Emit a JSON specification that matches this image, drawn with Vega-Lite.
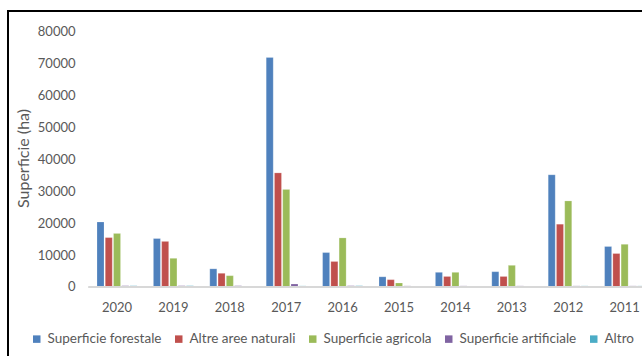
{
  "$schema": "https://vega.github.io/schema/vega-lite/v6.json",
  "autosize": {"type": "none"},
  "padding": {"left": 8, "top": 11, "right": 0, "bottom": 0},
  "width": 660,
  "height": 360,
  "background": "white",
  "config": {
    "view": {"stroke": "#000000", "strokeWidth": 2},
    "font": "Lato",
    "axis": {"labelFont": "Lato", "titleFont": "Lato", "labelColor": "#595959", "titleColor": "#595959"}
  },
  "data": {
    "values": [
      {"anno": "2020", "categoria": "Superficie forestale", "valore": 20400},
      {"anno": "2020", "categoria": "Altre aree naturali", "valore": 15500},
      {"anno": "2020", "categoria": "Superficie agricola", "valore": 16800},
      {"anno": "2020", "categoria": "Superficie artificiale", "valore": 400},
      {"anno": "2020", "categoria": "Altro", "valore": 400},
      {"anno": "2019", "categoria": "Superficie forestale", "valore": 15200},
      {"anno": "2019", "categoria": "Altre aree naturali", "valore": 14300},
      {"anno": "2019", "categoria": "Superficie agricola", "valore": 9000},
      {"anno": "2019", "categoria": "Superficie artificiale", "valore": 400},
      {"anno": "2019", "categoria": "Altro", "valore": 400},
      {"anno": "2018", "categoria": "Superficie forestale", "valore": 5700},
      {"anno": "2018", "categoria": "Altre aree naturali", "valore": 4300},
      {"anno": "2018", "categoria": "Superficie agricola", "valore": 3550},
      {"anno": "2018", "categoria": "Superficie artificiale", "valore": 400},
      {"anno": "2018", "categoria": "Altro", "valore": 0},
      {"anno": "2017", "categoria": "Superficie forestale", "valore": 72000},
      {"anno": "2017", "categoria": "Altre aree naturali", "valore": 35800},
      {"anno": "2017", "categoria": "Superficie agricola", "valore": 30600},
      {"anno": "2017", "categoria": "Superficie artificiale", "valore": 950},
      {"anno": "2017", "categoria": "Altro", "valore": 350},
      {"anno": "2016", "categoria": "Superficie forestale", "valore": 10800},
      {"anno": "2016", "categoria": "Altre aree naturali", "valore": 8000},
      {"anno": "2016", "categoria": "Superficie agricola", "valore": 15400},
      {"anno": "2016", "categoria": "Superficie artificiale", "valore": 400},
      {"anno": "2016", "categoria": "Altro", "valore": 400},
      {"anno": "2015", "categoria": "Superficie forestale", "valore": 3200},
      {"anno": "2015", "categoria": "Altre aree naturali", "valore": 2300},
      {"anno": "2015", "categoria": "Superficie agricola", "valore": 1250},
      {"anno": "2015", "categoria": "Superficie artificiale", "valore": 350},
      {"anno": "2015", "categoria": "Altro", "valore": 0},
      {"anno": "2014", "categoria": "Superficie forestale", "valore": 4600},
      {"anno": "2014", "categoria": "Altre aree naturali", "valore": 3300},
      {"anno": "2014", "categoria": "Superficie agricola", "valore": 4600},
      {"anno": "2014", "categoria": "Superficie artificiale", "valore": 350},
      {"anno": "2014", "categoria": "Altro", "valore": 0},
      {"anno": "2013", "categoria": "Superficie forestale", "valore": 4800},
      {"anno": "2013", "categoria": "Altre aree naturali", "valore": 3300},
      {"anno": "2013", "categoria": "Superficie agricola", "valore": 6800},
      {"anno": "2013", "categoria": "Superficie artificiale", "valore": 350},
      {"anno": "2013", "categoria": "Altro", "valore": 0},
      {"anno": "2012", "categoria": "Superficie forestale", "valore": 35200},
      {"anno": "2012", "categoria": "Altre aree naturali", "valore": 19700},
      {"anno": "2012", "categoria": "Superficie agricola", "valore": 27000},
      {"anno": "2012", "categoria": "Superficie artificiale", "valore": 350},
      {"anno": "2012", "categoria": "Altro", "valore": 350},
      {"anno": "2011", "categoria": "Superficie forestale", "valore": 12700},
      {"anno": "2011", "categoria": "Altre aree naturali", "valore": 10500},
      {"anno": "2011", "categoria": "Superficie agricola", "valore": 13400},
      {"anno": "2011", "categoria": "Superficie artificiale", "valore": 350},
      {"anno": "2011", "categoria": "Altro", "valore": 350}
    ]
  },
  "layer": [
    {
      "mark": {"type": "bar", "stroke": "#ffffff", "strokeWidth": 0.5, "strokeOpacity": 0.4},
      "encoding": {
        "x": {
          "field": "anno",
          "type": "nominal",
          "sort": null,
          "scale": {"paddingInner": 0, "paddingOuter": 0.851, "align": 0.842},
          "axis": {
            "title": null,
            "domain": false,
            "ticks": false,
            "tickSize": 0,
            "labelAngle": 0,
            "labelFontSize": 13,
            "labelBaseline": "middle",
            "labelPadding": 20,
            "offset": -84
          }
        },
        "xOffset": {
          "field": "categoria",
          "type": "nominal",
          "sort": ["Superficie forestale", "Altre aree naturali", "Superficie agricola", "Superficie artificiale", "Altro"],
          "scale": {"paddingInner": 0.15, "paddingOuter": 0.99}
        },
        "y": {
          "field": "valore",
          "type": "quantitative",
          "scale": {"domain": [-26353, 86588], "nice": false, "zero": false},
          "axis": {
            "title": "Superficie (ha)",
            "values": [0, 10000, 20000, 30000, 40000, 50000, 60000, 70000, 80000],
            "format": "d",
            "grid": false,
            "domain": false,
            "ticks": false,
            "tickSize": 0,
            "labelPadding": 0,
            "labelFontSize": 13,
            "offset": -67,
            "titleFontSize": 16,
            "titleFontWeight": "normal",
            "titleX": -44,
            "titleY": 147,
            "titleAlign": "center",
            "titleAngle": -90,
            "titleBaseline": "bottom"
          }
        },
        "y2": {"datum": 0},
        "color": {
          "field": "categoria",
          "type": "nominal",
          "sort": ["Superficie forestale", "Altre aree naturali", "Superficie agricola", "Superficie artificiale", "Altro"],
          "scale": {
            "domain": ["Superficie forestale", "Altre aree naturali", "Superficie agricola", "Superficie artificiale", "Altro"],
            "range": ["#4F81BD", "#C0504D", "#9BBB59", "#8064A2", "#4BACC6"]
          },
          "legend": {
            "title": null,
            "orient": "none",
            "direction": "horizontal",
            "legendX": 22,
            "legendY": 321,
            "symbolType": "square",
            "symbolSize": 56,
            "symbolStrokeWidth": 0,
            "labelFont": "Lato",
            "labelFontSize": 13.5,
            "labelColor": "#595959",
            "labelOffset": 4,
            "columnPadding": 10,
            "padding": 0
          }
        }
      }
    },
    {
      "mark": {"type": "rule", "color": "#d9d9d9", "strokeWidth": 1},
      "encoding": {
        "x": {"datum": "2020", "bandPosition": 0},
        "x2": {"datum": "2011", "bandPosition": 1},
        "y": {"datum": 0}
      }
    }
  ]
}
